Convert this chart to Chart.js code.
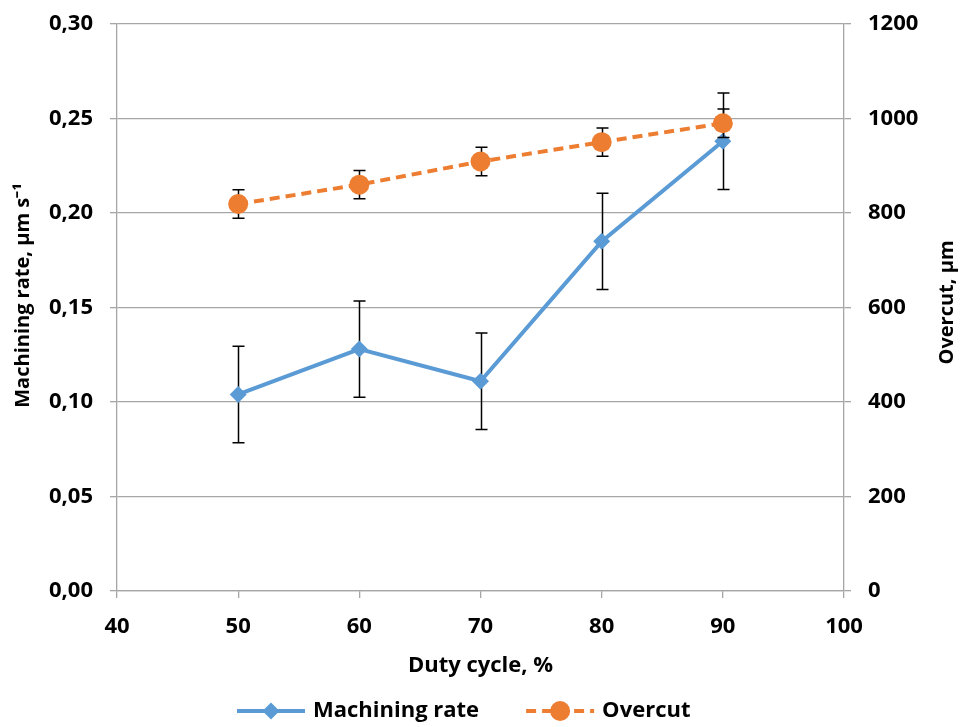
<!DOCTYPE html>
<html><head><meta charset="utf-8">
<script src="https://cdn.jsdelivr.net/npm/chart.js@4.4.1/dist/chart.umd.min.js"></script>
<style>html,body{margin:0;padding:0;background:#fff;}#wrap{width:960px;height:727px;}</style>
</head><body><div id="wrap"><canvas id="c" width="960" height="727"></canvas></div>
<script>
// ---- data ----
const dutyCycle = [50, 60, 70, 80, 90];
const machiningRate = [0.104, 0.128, 0.111, 0.185, 0.238];
const machiningRateErr = [0.0255, 0.0255, 0.0255, 0.0255, 0.0255];
const overcut = [819, 860, 909, 950, 990];
const overcutErr = [30, 30, 30, 30, 30];
const seriesNames = ['Machining rate', 'Overcut'];
const xTitle = 'Duty cycle, %';
const yTitle = 'Machining rate, \u03bcm s\u207b\u00b9';
const y1Title = 'Overcut, \u03bcm';

const FONT = "'Open Sans'";
const BLUE = '#5B9BD5', ORANGE = '#ED7D31', GRID = '#A6A6A6';

const errorBars = {
  id: 'errorBars',
  beforeDatasetDraw(chart, args) {
    const ds = chart.data.datasets[args.index];
    if (!ds.errorValues) return;
    const ctx = chart.ctx, xs = chart.scales.x, ys = chart.scales[ds.yAxisID];
    ctx.save();
    ctx.strokeStyle = '#000'; ctx.lineWidth = 1.5;
    ds.data.forEach((p, j) => {
      const e = ds.errorValues[j];
      const x = Math.round(xs.getPixelForValue(p.x)) + 0.5;
      const yt = ys.getPixelForValue(p.y + e), yb = ys.getPixelForValue(p.y - e);
      ctx.beginPath();
      ctx.moveTo(x, yt); ctx.lineTo(x, yb);
      ctx.moveTo(x - 6, yt); ctx.lineTo(x + 6, yt);
      ctx.moveTo(x - 6, yb); ctx.lineTo(x + 6, yb);
      ctx.stroke();
    });
    ctx.restore();
  }
};

// vertical axis titles, both reading bottom-to-top like the reference
const axisTitles = {
  id: 'axisTitles',
  afterDraw(chart) {
    const ctx = chart.ctx, ca = chart.chartArea;
    const mid = (ca.top + ca.bottom) / 2;
    ctx.save();
    ctx.font = 'bold 20px ' + FONT;
    ctx.fillStyle = '#000';
    ctx.textAlign = 'center'; ctx.textBaseline = 'middle';
    ctx.save();
    ctx.translate(chart.scales.y.left + 23, mid - 12);
    ctx.rotate(-Math.PI / 2);
    ctx.fillText(yTitle, 0, 0);
    ctx.restore();
    ctx.save();
    ctx.translate(chart.scales.y1.right - 13, mid - 5);
    ctx.rotate(-Math.PI / 2);
    ctx.fillText(y1Title, 0, 0);
    ctx.restore();
    ctx.restore();
  }
};

const customLegend = {
  id: 'customLegend',
  afterDraw(chart) {
    const ctx = chart.ctx;
    const y = 711;
    ctx.save();
    ctx.font = 'bold 22px ' + FONT;
    ctx.textBaseline = 'middle';
    const items = [chart.data.datasets[1], chart.data.datasets[0]];
    let x0 = 237;
    items.forEach((ds) => {
      const lineLen = 68;
      ctx.strokeStyle = ds.borderColor; ctx.lineWidth = 4;
      ctx.setLineDash(ds.borderDash || []);
      ctx.beginPath(); ctx.moveTo(x0, y); ctx.lineTo(x0 + lineLen, y); ctx.stroke();
      ctx.setLineDash([]);
      ctx.fillStyle = ds.backgroundColor;
      ctx.beginPath();
      const cx = x0 + lineLen / 2, r = ds.pointRadius;
      if (ds.pointStyle === 'circle') { ctx.arc(cx, y, r, 0, Math.PI * 2); }
      else { ctx.moveTo(cx - r, y); ctx.lineTo(cx, y - r); ctx.lineTo(cx + r, y); ctx.lineTo(cx, y + r); ctx.closePath(); }
      ctx.fill();
      ctx.fillStyle = '#000';
      const tx = x0 + lineLen + 8;
      ctx.fillText(ds.label, tx, y);
      x0 = tx + ctx.measureText(ds.label).width + 47;
    });
    ctx.restore();
  }
};

const fmtComma = v => v.toFixed(2).replace('.', ',');
const noPad = s => { s.paddingTop = 0; s.paddingBottom = 0; };

new Chart(document.getElementById('c'), {
  type: 'line',
  data: {
    datasets: [
      {
        label: seriesNames[1],
        data: dutyCycle.map((d, i) => ({x: d, y: overcut[i]})),
        errorValues: overcutErr,
        yAxisID: 'y1',
        borderColor: ORANGE, backgroundColor: ORANGE,
        borderWidth: 4, borderDash: [10, 6],
        pointStyle: 'circle', pointRadius: 10, pointBorderWidth: 0,
        pointBackgroundColor: ORANGE, tension: 0, order: 0
      },
      {
        label: seriesNames[0],
        data: dutyCycle.map((d, i) => ({x: d, y: machiningRate[i]})),
        errorValues: machiningRateErr,
        yAxisID: 'y',
        borderColor: BLUE, backgroundColor: BLUE,
        borderWidth: 4,
        pointStyle: 'rectRot', pointRadius: 8.5, pointBorderWidth: 0,
        pointBackgroundColor: BLUE, tension: 0, order: 1
      }
    ]
  },
  options: {
    responsive: false, animation: false,
    layout: {padding: {top: 24, left: 0, right: 0, bottom: 40}},
    plugins: {legend: {display: false}, tooltip: {enabled: false}},
    scales: {
      x: {
        type: 'linear', min: 40, max: 100,
        afterFit: s => { s.height = 96; s.paddingLeft = 0; s.paddingRight = 0; },
        ticks: {stepSize: 10, padding: 16, color: '#000', font: {family: FONT, size: 22, weight: 'bold'}},
        grid: {drawOnChartArea: false, drawTicks: true, tickLength: 7, color: GRID, lineWidth: 1.3},
        border: {display: true, color: GRID, width: 1.3},
        title: {display: true, text: xTitle, color: '#000', padding: {top: 0, bottom: 8}, font: {family: FONT, size: 22, weight: 'bold'}}
      },
      y: {
        type: 'linear', position: 'left', min: 0, max: 0.30,
        afterFit: s => { s.width = 117; noPad(s); },
        ticks: {stepSize: 0.05, padding: 17, color: '#000', callback: v => fmtComma(v), font: {family: FONT, size: 22, weight: 'bold'}},
        grid: {drawOnChartArea: true, drawTicks: true, tickLength: 7, color: GRID, lineWidth: 1.3},
        border: {display: true, color: GRID, width: 1.3},
        title: {display: false}
      },
      y1: {
        type: 'linear', position: 'right', min: 0, max: 1200,
        afterFit: s => { s.width = 116; noPad(s); },
        ticks: {stepSize: 200, padding: 17, color: '#000', callback: v => String(v), font: {family: FONT, size: 22, weight: 'bold'}},
        grid: {drawOnChartArea: false, drawTicks: true, tickLength: 7, color: GRID, lineWidth: 1.3},
        border: {display: true, color: GRID, width: 1.3},
        title: {display: false}
      }
    }
  },
  plugins: [errorBars, axisTitles, customLegend]
});
</script>
</body></html>
